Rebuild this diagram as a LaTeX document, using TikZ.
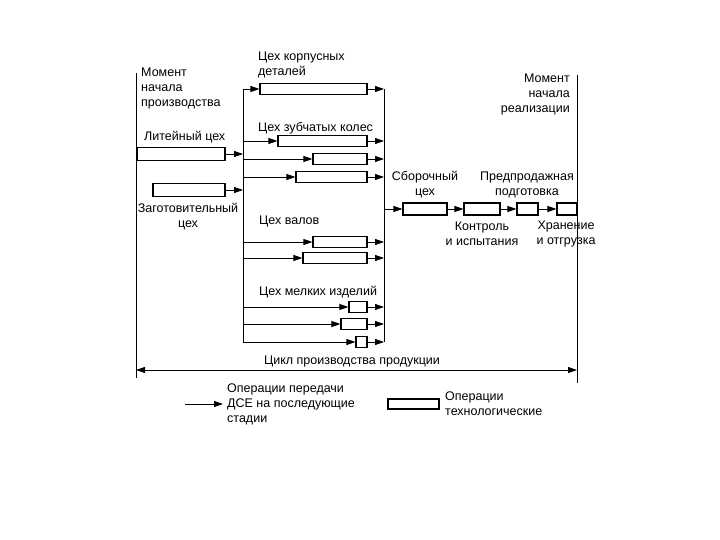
\documentclass[tikz,border=0pt]{standalone}
\usepackage{fontspec}
\setmainfont{Liberation Sans}
\usetikzlibrary{arrows.meta}
\begin{document}
\begin{tikzpicture}[x=1pt,y=-1pt,
  box/.style={draw, line width=1.1pt, rectangle, inner sep=0pt, minimum height=11pt, fill=white},
  ln/.style={line width=0.8pt},
  arr/.style={ln, -{Triangle[length=9pt,width=6pt]}},
  darr/.style={ln, {Triangle[length=9pt,width=6pt]}-{Triangle[length=9pt,width=6pt]}},
  lbl/.style={font=\fontsize{12.5}{15}\selectfont, inner sep=0pt, align=center},
  lbll/.style={lbl, align=left, anchor=west},
]
\useasboundingbox (0,0) rectangle (720,540);

% main verticals and cycle arrow
\coordinate (Mtop) at (136,73);
\coordinate (Mbot) at (136,378);
\coordinate (Ntop) at (577,75);
\coordinate (Nbot) at (577,383);
\coordinate (C1) at (136,370);
\coordinate (C2) at (577,370);
\draw[ln] (Mtop) -- (Mbot);
\draw[ln] (Ntop) -- (Nbot);
\draw[darr] (C1) -- (C2);

% buses
\coordinate (Ltop) at (243,89);
\coordinate (Lbot) at (243,342);
\coordinate (Rtop) at (384,89);
\coordinate (Rbot) at (384,342);
\draw[ln] (Ltop) -- (Lbot);
\draw[ln] (Rtop) -- (Rbot);

% boxes
\node[box, minimum width=107pt] (k1) at (313.5,89) {};
\node[box, minimum width=89pt] (z1) at (322.5,141) {};
\node[box, minimum width=54pt] (z2) at (340,159) {};
\node[box, minimum width=71pt] (z3) at (331.5,177) {};
\node[box, minimum width=88pt, minimum height=13pt] (lit) at (181,154) {};
\node[box, minimum width=72pt, minimum height=13pt] (zag) at (189,190) {};
\node[box, minimum width=54pt] (v1) at (340,242) {};
\node[box, minimum width=64pt] (v2) at (335,258) {};
\node[box, minimum width=18pt] (m1) at (358,307) {};
\node[box, minimum width=26pt] (m2) at (354,324) {};
\node[box, minimum width=11pt] (m3) at (361.5,342) {};
\node[box, minimum width=44pt, minimum height=12pt] (s1) at (425,209) {};
\node[box, minimum width=36pt, minimum height=12pt] (s2) at (482,209) {};
\node[box, minimum width=21pt, minimum height=12pt] (s3) at (527.5,209) {};
\node[box, minimum width=20pt, minimum height=12pt] (s4) at (567,209) {};

% inputs from left bus
\foreach \b in {k1,z1,z2,z3,v1,v2,m1,m2,m3}{
  \draw[arr] (Ltop |- \b) -- (\b.west);
  \draw[arr] (\b.east) -- (Rtop |- \b);
}
\draw[arr] (lit.east) -- (Ltop |- lit);
\draw[arr] (zag.east) -- (Ltop |- zag);

% assembly chain
\draw[arr] (Rtop |- s1) -- (s1.west);
\draw[arr] (s1.east) -- (s2.west);
\draw[arr] (s2.east) -- (s3.west);
\draw[arr] (s3.east) -- (s4.west);

% labels
\node[lbll] (t1) at (141,88) {Момент\\начала\\производства};
\node[lbll] (t2) at (258,65) {Цех корпусных\\деталей};
\node[lbll] (t3) at (144,137) {Литейный цех};
\node[lbll] (t4) at (258,128) {Цех зубчатых колес};
\node[lbl] (t5) at (188,217) {Заготовительный\\цех};
\node[lbll] (t6) at (259,221) {Цех валов};
\node[lbll] (t7) at (259,292) {Цех мелких изделий};
\node[lbl] (t8) at (425,185) {Сборочный\\цех};
\node[lbl] (t9) at (527,185) {Предпродажная\\подготовка};
\node[lbl] (t10) at (482,234) {Контроль\\и испытания};
\node[lbl] (t11) at (566,234) {Хранение\\и отгрузка};
\node[lbl, align=right, anchor=east] (t12) at (570,94) {Момент\\начала\\реализации};
\node[lbl] (t13) at (352,361) {Цикл производства продукции};

% legend
\coordinate (La) at (185,404);
\coordinate (Lb) at (223,404);
\draw[arr] (La) -- (Lb);
\node[lbll] (t14) at (227,404) {Операции передачи\\ДСЕ на последующие\\стадии};
\node[box, minimum width=51pt, minimum height=10pt] (lg) at (413.5,404) {};
\node[lbll] (t15) at (445,403.5) {Операции\\технологические};
\end{tikzpicture}
\end{document}
